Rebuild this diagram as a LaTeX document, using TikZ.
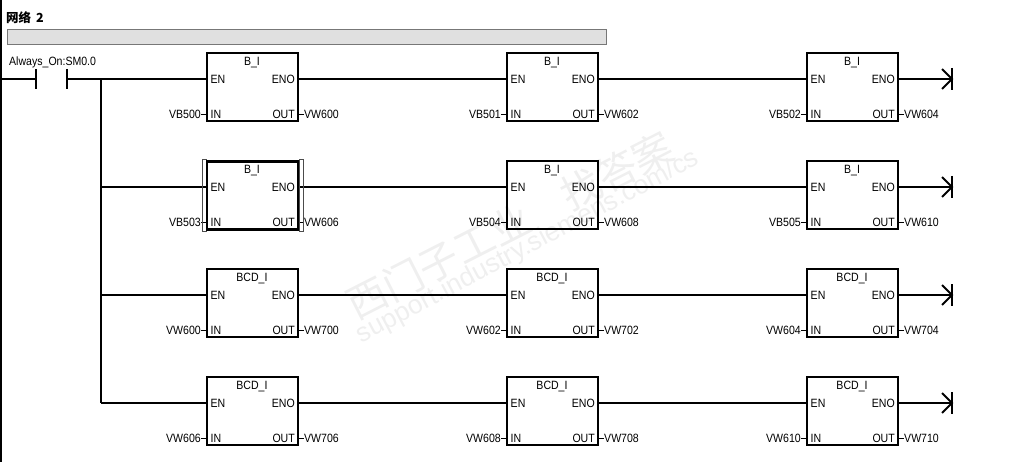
\documentclass[tikz,border=0pt]{standalone}
\usepackage{fontspec}
\setmainfont{Liberation Sans}
\newfontfamily\cjk{Noto Sans CJK SC}
\newfontfamily\plcfont[FakeStretch=0.88]{Liberation Sans}
\usetikzlibrary{positioning, calc}
\definecolor{barfill}{HTML}{E0E0E0}
\definecolor{barline}{HTML}{777777}
\definecolor{wmark}{HTML}{EFEFEF}
\tikzset{
  rung/.style={line width=2pt},
  fblock/.style={draw,line width=2pt,minimum width=91pt,minimum height=68pt,inner sep=0pt},
  pinlabel/.style={font=\plcfont\fontsize{12}{12}\selectfont,inner sep=0pt,text height=8.5pt,text depth=0pt},
  wmarktext/.style={text=wmark,inner sep=0pt}
}
\begin{document}
\begin{tikzpicture}[x=1pt,y=-1pt]
    \useasboundingbox (0,0) rectangle (1035,462);
    % watermark
    \node[wmarktext,rotate=27,font=\cjk\fontsize{40}{40}\selectfont] (wmarkcn) at (510,225) {西门子工业\quad 找答案};
    \node[wmarktext,rotate=28,font=\fontsize{26.5}{26.5}\selectfont] (wmarken) at (528,247) {support.industry.siemens.com/cs};
    % title
    \node[anchor=west,inner sep=0pt,font=\cjk\bfseries\fontsize{12.5}{12.5}\selectfont] (title) at (6,18) {网络\hspace{2pt} 2};
    \node[draw=barline,fill=barfill,line width=1pt,minimum width=599pt,minimum height=15pt,inner sep=0pt,anchor=north west] (bar) at (6.5,29) {};
    % rail and contact
    \coordinate (railtop) at (1,0);
    \coordinate (railbot) at (1,462);
    \draw[line width=2.5pt] (railtop) -- (railbot);
    \coordinate (c1) at (36,79);
    \coordinate (c2) at (67,79);
    \draw[rung] (1,79) -- (c1);
    \draw[rung] ($(c1)+(0,-10)$) -- ($(c1)+(0,10)$);
    \draw[rung] ($(c2)+(0,-10)$) -- ($(c2)+(0,10)$);
    \node[pinlabel,anchor=west] (contact) at (9,61) {Always\_On:SM0.0};
    % blocks
    \foreach \r/\y/\nm/\ina/\inb/\inc/\outa/\outb/\outc in {
        1/53/B\_I/VB500/VB501/VB502/VW600/VW602/VW604,
        2/161/B\_I/VB503/VB504/VB505/VW606/VW608/VW610,
        3/269/BCD\_I/VW600/VW602/VW604/VW700/VW702/VW704,
        4/377/BCD\_I/VW606/VW608/VW610/VW706/VW708/VW710} {
      \coordinate (j\r) at (101,\y+26);
      \foreach \c/\x/\inp/\outp in {1/207/\ina/\outa,2/507/\inb/\outb,3/807/\inc/\outc} {
        \node[fblock,anchor=north west] (b\r\c) at (\x-1,\y-.7) {};
        \node[pinlabel] (t\r\c) at (\x+45,\y+8) {\nm};
        \node[pinlabel,anchor=west] (en\r\c) at (\x+3.5,\y+26) {EN};
        \node[pinlabel,anchor=east] (eno\r\c) at (\x+88,\y+26) {ENO};
        \node[pinlabel,anchor=west] (in\r\c) at (\x+3.5,\y+61.5) {IN};
        \node[pinlabel,anchor=east] (out\r\c) at (\x+88,\y+61.5) {OUT};
        \node[pinlabel,anchor=east] (v\r\c) at (\x-6,\y+61.5) {\inp};
        \node[pinlabel,anchor=west] (w\r\c) at (\x+97,\y+61.5) {\outp};
        \draw[line width=1.5pt] (v\r\c) -- (v\r\c -| b\r\c.west);
        \draw[line width=1.5pt] (w\r\c) -- (w\r\c -| b\r\c.east);
      }
      \coordinate (e\r) at (952,\y+26);
      \draw[rung] (j\r) -- (j\r -| b\r1.west);
      \draw[rung] (b\r1.east |- j\r) -- (b\r2.west |- j\r);
      \draw[rung] (b\r2.east |- j\r) -- (b\r3.west |- j\r);
      \draw[rung] (b\r3.east |- j\r) -- (e\r);
      \draw[rung] ($(e\r)+(0,-11)$) -- ($(e\r)+(0,11)$);
      \draw[rung] ($(e\r)+(-10,-10)$) -- (e\r) -- ($(e\r)+(-10,10)$);
    }
    % the selected block
    \draw[line width=1pt,black!70] ($(b21.north west)+(-4,-1)$) rectangle ($(b21.south west)+(0,1)$);
    \draw[line width=1pt,black!70] ($(b21.north east)+(0,-1)$) rectangle ($(b21.south east)+(4,1)$);
    \draw[line width=2.5pt] ($(b21.north west)+(1,1)$) rectangle ($(b21.south east)+(-1,-1)$);
    % power rail
    \draw[rung] (c2) -- (j1);
    \draw[rung] (j1) -- (j4);
\end{tikzpicture}
\end{document}
